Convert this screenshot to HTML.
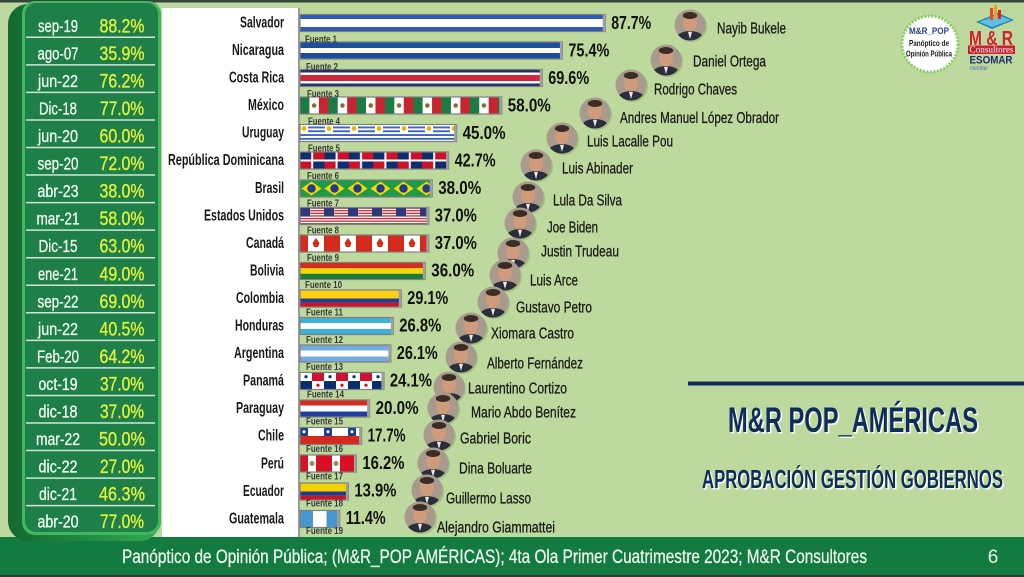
<!DOCTYPE html>
<html><head><meta charset="utf-8"><style>
html,body{margin:0;padding:0;background:#bdd99d;}
svg{display:block;}
.f{font-family:"Liberation Sans Narrow","Liberation Sans",sans-serif;}
</style></head><body>
<svg width="1024" height="577" viewBox="0 0 1024 577" xmlns="http://www.w3.org/2000/svg" class="f">
<defs>
<linearGradient id="side" x1="0" x2="1" y1="0" y2="0">
<stop offset="0" stop-color="#16682f"/><stop offset="0.5" stop-color="#1f8a40"/><stop offset="1" stop-color="#34a856"/>
</linearGradient>
<clipPath id="fc"><circle cx="0" cy="0" r="15.5"/></clipPath>
<g id="face">
<circle cx="1.5" cy="1.5" r="15.5" fill="#6f8a5c" opacity="0.35"/>
<g clip-path="url(#fc)">
<rect x="-16" y="-16" width="32" height="32" fill="#a89a8c"/>
<ellipse cx="0" cy="16" rx="15" ry="10" fill="#2a2e3a"/>
<ellipse cx="0" cy="-2" rx="7" ry="8.5" fill="#cf9b7a"/>
<ellipse cx="0" cy="-9.5" rx="7.2" ry="3.5" fill="#3b2d26"/>
<polygon points="-2,7 2,7 0,14" fill="#e8e8e8"/>
</g>
</g>
<pattern id="p4" patternUnits="userSpaceOnUse" x="300" y="97" width="28.3" height="17">
<rect x="0" y="0" width="9.43" height="17" fill="#1b7b43"/><rect x="9.43" y="0" width="9.44" height="17" fill="#fff"/><rect x="18.87" y="0" width="9.43" height="17" fill="#c8242f"/><circle cx="14.15" cy="8.5" r="2.3" fill="#8a6a3a"/>
</pattern>
<pattern id="p5" patternUnits="userSpaceOnUse" x="300" y="124.5" width="25" height="17">
<rect width="25" height="17" fill="#fff"/><rect x="0" y="2" width="25" height="1.9" fill="#3a66c4"/><rect x="0" y="5.8" width="25" height="1.9" fill="#3a66c4"/><rect x="0" y="9.6" width="25" height="1.9" fill="#3a66c4"/><rect x="0" y="13.4" width="25" height="1.9" fill="#3a66c4"/><rect x="0" y="0" width="8" height="8" fill="#fff"/><circle cx="4" cy="4" r="2.4" fill="#e8b800"/>
</pattern>
<pattern id="p6" patternUnits="userSpaceOnUse" x="300" y="152" width="24.4" height="17">
<rect width="24.4" height="17" fill="#fff"/><rect x="0" y="0" width="11.2" height="7.5" fill="#0d2d6e"/><rect x="13.2" y="0" width="11.2" height="7.5" fill="#ce1126"/><rect x="0" y="9.5" width="11.2" height="7.5" fill="#ce1126"/><rect x="13.2" y="9.5" width="11.2" height="7.5" fill="#0d2d6e"/>
</pattern>
<pattern id="p7" patternUnits="userSpaceOnUse" x="300" y="180" width="23" height="17">
<rect width="23" height="17" fill="#1e9a48"/><polygon points="1.5,8.5 11.5,1.5 21.5,8.5 11.5,15.5" fill="#f6d800"/><circle cx="11.5" cy="8.5" r="4.2" fill="#1f3c8f"/>
</pattern>
<pattern id="p8" patternUnits="userSpaceOnUse" x="300" y="207.5" width="24" height="17">
<rect width="24" height="17" fill="#fff"/><rect y="0" width="24" height="1.3" fill="#c0303a"/><rect y="2.6" width="24" height="1.3" fill="#c0303a"/><rect y="5.2" width="24" height="1.3" fill="#c0303a"/><rect y="7.8" width="24" height="1.3" fill="#c0303a"/><rect y="10.4" width="24" height="1.3" fill="#c0303a"/><rect y="13" width="24" height="1.3" fill="#c0303a"/><rect y="15.6" width="24" height="1.4" fill="#c0303a"/><rect x="0" y="0" width="10" height="9" fill="#2c3a78"/>
</pattern>
<pattern id="p9" patternUnits="userSpaceOnUse" x="300" y="235" width="32" height="17">
<rect width="32" height="17" fill="#d52b1e"/><rect x="8" y="0" width="16" height="17" fill="#fff"/><polygon points="16,3 19.5,8 18,12 14,12 12.5,8" fill="#d52b1e"/>
</pattern>
<pattern id="p14" patternUnits="userSpaceOnUse" x="300" y="372.5" width="24" height="17">
<rect width="24" height="17" fill="#fff"/><rect x="12" y="0" width="12" height="8.5" fill="#d21034"/><rect x="0" y="8.5" width="12" height="8.5" fill="#072f6e"/><circle cx="6" cy="4.25" r="1.6" fill="#072f6e"/><circle cx="18" cy="12.75" r="1.6" fill="#d21034"/>
</pattern>
<pattern id="p16" patternUnits="userSpaceOnUse" x="300" y="427.5" width="24" height="17">
<rect width="24" height="8.5" fill="#fff"/><rect y="8.5" width="24" height="8.5" fill="#d52b1e"/><rect x="0" y="0" width="8" height="8.5" fill="#1c3f94"/><circle cx="4" cy="4.25" r="1.5" fill="#fff"/>
</pattern>
<pattern id="p17" patternUnits="userSpaceOnUse" x="300" y="455" width="24" height="17">
<rect width="24" height="17" fill="#d91023"/><rect x="8" y="0" width="8" height="17" fill="#fff"/><circle cx="12" cy="8.5" r="2.5" fill="#9a8a4a"/>
</pattern>
</defs>

<rect width="1024" height="577" fill="#bdd99d"/>
<rect x="0" y="0" width="1024" height="2.5" fill="#35443a"/>

<rect x="0" y="537" width="1024" height="38" fill="#137a40"/>
<rect x="0" y="575" width="1024" height="2" fill="#2e3a33"/>
<text x="122" y="563" font-size="19" fill="#eaf4ea" stroke="#eaf4ea" stroke-width="0.3" textLength="745" lengthAdjust="spacingAndGlyphs">Panóptico de Opinión Pública; (M&amp;R_POP AMÉRICAS); 4ta Ola Primer Cuatrimestre 2023; M&amp;R Consultores</text>
<text x="993" y="563" font-size="19" fill="#eaf4ea" text-anchor="middle">6</text>

<rect x="8" y="4" width="152" height="537" rx="20" fill="url(#side)"/>
<rect x="22" y="1" width="139" height="534" rx="13" fill="#3fb860"/>
<rect x="25" y="3" width="133" height="529" rx="11" fill="#1f7f48"/>
<g stroke="#cfe6d4" stroke-width="1.5">
<line x1="26" x2="155" y1="37.3" y2="37.3"/><line x1="26" x2="155" y1="64.85" y2="64.85"/><line x1="26" x2="155" y1="92.4" y2="92.4"/><line x1="26" x2="155" y1="119.95" y2="119.95"/><line x1="26" x2="155" y1="147.5" y2="147.5"/><line x1="26" x2="155" y1="175.05" y2="175.05"/><line x1="26" x2="155" y1="202.6" y2="202.6"/><line x1="26" x2="155" y1="230.15" y2="230.15"/><line x1="26" x2="155" y1="257.7" y2="257.7"/><line x1="26" x2="155" y1="285.25" y2="285.25"/><line x1="26" x2="155" y1="312.8" y2="312.8"/><line x1="26" x2="155" y1="340.35" y2="340.35"/><line x1="26" x2="155" y1="367.9" y2="367.9"/><line x1="26" x2="155" y1="395.45" y2="395.45"/><line x1="26" x2="155" y1="423" y2="423"/><line x1="26" x2="155" y1="450.55" y2="450.55"/><line x1="26" x2="155" y1="478.1" y2="478.1"/><line x1="26" x2="155" y1="505.65" y2="505.65"/>
</g>
<g font-size="17.5" fill="#eef7f0" stroke="#eef7f0" stroke-width="0.35" text-anchor="middle">
<text x="58" y="31.8" textLength="40" lengthAdjust="spacingAndGlyphs">sep-19</text>
<text x="58" y="59.35" textLength="41" lengthAdjust="spacingAndGlyphs">ago-07</text>
<text x="58" y="86.9" textLength="40" lengthAdjust="spacingAndGlyphs">jun-22</text>
<text x="58" y="114.45" textLength="38" lengthAdjust="spacingAndGlyphs">Dic-18</text>
<text x="58" y="142" textLength="40" lengthAdjust="spacingAndGlyphs">jun-20</text>
<text x="58" y="169.55" textLength="41" lengthAdjust="spacingAndGlyphs">sep-20</text>
<text x="58" y="197.1" textLength="41" lengthAdjust="spacingAndGlyphs">abr-23</text>
<text x="58" y="224.65" textLength="43" lengthAdjust="spacingAndGlyphs">mar-21</text>
<text x="58" y="252.2" textLength="39" lengthAdjust="spacingAndGlyphs">Dic-15</text>
<text x="58" y="279.75" textLength="40" lengthAdjust="spacingAndGlyphs">ene-21</text>
<text x="58" y="307.3" textLength="41" lengthAdjust="spacingAndGlyphs">sep-22</text>
<text x="58" y="334.85" textLength="40" lengthAdjust="spacingAndGlyphs">jun-22</text>
<text x="58" y="362.4" textLength="42" lengthAdjust="spacingAndGlyphs">Feb-20</text>
<text x="58" y="389.95" textLength="39" lengthAdjust="spacingAndGlyphs">oct-19</text>
<text x="58" y="417.5" textLength="39" lengthAdjust="spacingAndGlyphs">dic-18</text>
<text x="58" y="445.05" textLength="44" lengthAdjust="spacingAndGlyphs">mar-22</text>
<text x="58" y="472.6" textLength="39" lengthAdjust="spacingAndGlyphs">dic-22</text>
<text x="58" y="500.15" textLength="38" lengthAdjust="spacingAndGlyphs">dic-21</text>
<text x="58" y="527.7" textLength="41" lengthAdjust="spacingAndGlyphs">abr-20</text>
</g>
<g font-size="19" fill="#e4f23c" stroke="#e4f23c" stroke-width="0.35" text-anchor="middle">
<text x="122" y="32.3" textLength="45" lengthAdjust="spacingAndGlyphs">88.2%</text>
<text x="122" y="59.85" textLength="45" lengthAdjust="spacingAndGlyphs">35.9%</text>
<text x="122" y="87.4" textLength="45" lengthAdjust="spacingAndGlyphs">76.2%</text>
<text x="122" y="114.95" textLength="44" lengthAdjust="spacingAndGlyphs">77.0%</text>
<text x="122" y="142.5" textLength="45" lengthAdjust="spacingAndGlyphs">60.0%</text>
<text x="122" y="170.05" textLength="45" lengthAdjust="spacingAndGlyphs">72.0%</text>
<text x="122" y="197.6" textLength="45" lengthAdjust="spacingAndGlyphs">38.0%</text>
<text x="122" y="225.15" textLength="45" lengthAdjust="spacingAndGlyphs">58.0%</text>
<text x="122" y="252.7" textLength="45" lengthAdjust="spacingAndGlyphs">63.0%</text>
<text x="122" y="280.25" textLength="45" lengthAdjust="spacingAndGlyphs">49.0%</text>
<text x="122" y="307.8" textLength="45" lengthAdjust="spacingAndGlyphs">69.0%</text>
<text x="122" y="335.35" textLength="45" lengthAdjust="spacingAndGlyphs">40.5%</text>
<text x="122" y="362.9" textLength="45" lengthAdjust="spacingAndGlyphs">64.2%</text>
<text x="122" y="390.45" textLength="44" lengthAdjust="spacingAndGlyphs">37.0%</text>
<text x="122" y="418" textLength="44" lengthAdjust="spacingAndGlyphs">37.0%</text>
<text x="122" y="445.55" textLength="46" lengthAdjust="spacingAndGlyphs">50.0%</text>
<text x="122" y="473.1" textLength="44" lengthAdjust="spacingAndGlyphs">27.0%</text>
<text x="122" y="500.65" textLength="46" lengthAdjust="spacingAndGlyphs">46.3%</text>
<text x="122" y="528.2" textLength="44" lengthAdjust="spacingAndGlyphs">77.0%</text>
</g>

<rect x="162" y="8" width="136" height="529" fill="#ffffff"/>
<rect x="298" y="8" width="2" height="529" fill="#9a9a9a"/>
<g font-size="16" font-weight="bold" fill="#1a1a1a" text-anchor="end">
<text x="284" y="27.5" textLength="44" lengthAdjust="spacingAndGlyphs">Salvador</text>
<text x="284" y="55" textLength="52" lengthAdjust="spacingAndGlyphs">Nicaragua</text>
<text x="284" y="82.6" textLength="55" lengthAdjust="spacingAndGlyphs">Costa Rica</text>
<text x="284" y="110.1" textLength="36" lengthAdjust="spacingAndGlyphs">México</text>
<text x="284" y="137.7" textLength="42" lengthAdjust="spacingAndGlyphs">Uruguay</text>
<text x="284" y="165.2" textLength="116" lengthAdjust="spacingAndGlyphs">República Dominicana</text>
<text x="284" y="192.8" textLength="29" lengthAdjust="spacingAndGlyphs">Brasil</text>
<text x="284" y="220.3" textLength="80" lengthAdjust="spacingAndGlyphs">Estados Unidos</text>
<text x="284" y="247.9" textLength="38" lengthAdjust="spacingAndGlyphs">Canadá</text>
<text x="284" y="275.4" textLength="34" lengthAdjust="spacingAndGlyphs">Bolivia</text>
<text x="284" y="303" textLength="48" lengthAdjust="spacingAndGlyphs">Colombia</text>
<text x="284" y="330.5" textLength="49" lengthAdjust="spacingAndGlyphs">Honduras</text>
<text x="284" y="358.1" textLength="50" lengthAdjust="spacingAndGlyphs">Argentina</text>
<text x="284" y="385.6" textLength="41" lengthAdjust="spacingAndGlyphs">Panamá</text>
<text x="284" y="413.2" textLength="48" lengthAdjust="spacingAndGlyphs">Paraguay</text>
<text x="284" y="440.7" textLength="26" lengthAdjust="spacingAndGlyphs">Chile</text>
<text x="284" y="468.3" textLength="23" lengthAdjust="spacingAndGlyphs">Perú</text>
<text x="284" y="495.8" textLength="41" lengthAdjust="spacingAndGlyphs">Ecuador</text>
<text x="284" y="523.4" textLength="55" lengthAdjust="spacingAndGlyphs">Guatemala</text>
</g>

<rect x="300" y="14.5" width="305.2" height="17" fill="#fff"/>
<rect x="300" y="14.5" width="305.2" height="4.5" fill="#2b59b5"/>
<rect x="300" y="27" width="305.2" height="4.5" fill="#2b59b5"/>
<rect x="300" y="42" width="262.4" height="17" fill="#fff"/>
<rect x="300" y="42" width="262.4" height="6" fill="#1a4f9c"/>
<rect x="300" y="53" width="262.4" height="6" fill="#1a4f9c"/>
<rect x="300" y="69.5" width="242.2" height="17" fill="#fff"/>
<rect x="300" y="69.5" width="242.2" height="3" fill="#1f2f6b"/>
<rect x="300" y="75" width="242.2" height="6" fill="#d0263a"/>
<rect x="300" y="83.5" width="242.2" height="3" fill="#1f2f6b"/>
<rect x="300" y="97" width="201.8" height="17" fill="url(#p4)"/>
<rect x="300" y="124.5" width="156.6" height="17" fill="url(#p5)"/>
<rect x="300" y="152" width="148.6" height="17" fill="url(#p6)"/>
<rect x="300" y="180" width="132.2" height="17" fill="url(#p7)"/>
<rect x="300" y="207.5" width="128.8" height="17" fill="url(#p8)"/>
<rect x="300" y="235" width="128.8" height="17" fill="url(#p9)"/>
<rect x="300" y="262.5" width="125.3" height="5.7" fill="#d52b1e"/>
<rect x="300" y="268.2" width="125.3" height="5.6" fill="#f4d600"/>
<rect x="300" y="273.8" width="125.3" height="5.7" fill="#1a7a34"/>
<rect x="300" y="290" width="101.3" height="8.5" fill="#fcd116"/>
<rect x="300" y="298.5" width="101.3" height="4.25" fill="#1f3d93"/>
<rect x="300" y="302.75" width="101.3" height="4.25" fill="#ce1126"/>
<rect x="300" y="317.5" width="93.3" height="17" fill="#fff"/>
<rect x="300" y="317.5" width="93.3" height="5.5" fill="#3fb1d8"/>
<rect x="300" y="329" width="93.3" height="5.5" fill="#3fb1d8"/>
<rect x="300" y="345" width="90.8" height="17" fill="#fff"/>
<rect x="300" y="345" width="90.8" height="5.5" fill="#74acdf"/>
<rect x="300" y="356.5" width="90.8" height="5.5" fill="#74acdf"/>
<rect x="300" y="372.5" width="83.9" height="17" fill="url(#p14)"/>
<rect x="300" y="400" width="69.6" height="17" fill="#fff"/>
<rect x="300" y="400" width="69.6" height="5.5" fill="#d52b1e"/>
<rect x="300" y="411.5" width="69.6" height="5.5" fill="#1f3fa0"/>
<rect x="300" y="427.5" width="61.6" height="17" fill="url(#p16)"/>
<rect x="300" y="455" width="56.4" height="17" fill="url(#p17)"/>
<rect x="300" y="483" width="48.4" height="8.5" fill="#f6d100"/>
<rect x="300" y="491.5" width="48.4" height="4.25" fill="#1f3d93"/>
<rect x="300" y="495.75" width="48.4" height="4.25" fill="#ce1126"/>
<rect x="300" y="510.5" width="39.7" height="17" fill="#4997d0"/>
<rect x="313" y="510.5" width="13.5" height="17" fill="#fff"/>

<g fill="none" stroke="#7f7f7f" stroke-width="1.2">
<rect x="300" y="14.5" width="305.2" height="17"/><rect x="300" y="42" width="262.4" height="17"/><rect x="300" y="69.5" width="242.2" height="17"/><rect x="300" y="97" width="201.8" height="17"/><rect x="300" y="124.5" width="156.6" height="17"/><rect x="300" y="152" width="148.6" height="17"/><rect x="300" y="180" width="132.2" height="17"/><rect x="300" y="207.5" width="128.8" height="17"/><rect x="300" y="235" width="128.8" height="17"/><rect x="300" y="262.5" width="125.3" height="17"/><rect x="300" y="290" width="101.3" height="17"/><rect x="300" y="317.5" width="93.3" height="17"/><rect x="300" y="345" width="90.8" height="17"/><rect x="300" y="372.5" width="83.9" height="17"/><rect x="300" y="400" width="69.6" height="17"/><rect x="300" y="427.5" width="61.6" height="17"/><rect x="300" y="455" width="56.4" height="17"/><rect x="300" y="483" width="48.4" height="17"/><rect x="300" y="510.5" width="39.7" height="17"/>
</g>
<g fill="#a0a0a0">
<rect x="602.7" y="14.5" width="2.5" height="17"/><rect x="559.9" y="42" width="2.5" height="17"/><rect x="539.7" y="69.5" width="2.5" height="17"/><rect x="499.3" y="97" width="2.5" height="17"/><rect x="454.1" y="124.5" width="2.5" height="17"/><rect x="446.1" y="152" width="2.5" height="17"/><rect x="429.7" y="180" width="2.5" height="17"/><rect x="426.3" y="207.5" width="2.5" height="17"/><rect x="426.3" y="235" width="2.5" height="17"/><rect x="422.8" y="262.5" width="2.5" height="17"/><rect x="398.8" y="290" width="2.5" height="17"/><rect x="390.8" y="317.5" width="2.5" height="17"/><rect x="388.3" y="345" width="2.5" height="17"/><rect x="381.4" y="372.5" width="2.5" height="17"/><rect x="367.1" y="400" width="2.5" height="17"/><rect x="359.1" y="427.5" width="2.5" height="17"/><rect x="353.9" y="455" width="2.5" height="17"/><rect x="345.9" y="483" width="2.5" height="17"/><rect x="337.2" y="510.5" width="2.5" height="17"/>
</g>

<g font-size="10.5" font-weight="bold" fill="#3a3a3a">
<text x="305" y="42.5" textLength="32" lengthAdjust="spacingAndGlyphs">Fuente 1</text>
<text x="306" y="69.8" textLength="32" lengthAdjust="spacingAndGlyphs">Fuente 2</text>
<text x="307" y="97.1" textLength="32" lengthAdjust="spacingAndGlyphs">Fuente 3</text>
<text x="308" y="124.4" textLength="32" lengthAdjust="spacingAndGlyphs">Fuente 4</text>
<text x="308" y="151.7" textLength="32" lengthAdjust="spacingAndGlyphs">Fuente 5</text>
<text x="307" y="179" textLength="32" lengthAdjust="spacingAndGlyphs">Fuente 6</text>
<text x="307" y="206.3" textLength="32" lengthAdjust="spacingAndGlyphs">Fuente 7</text>
<text x="307" y="233.6" textLength="32" lengthAdjust="spacingAndGlyphs">Fuente 8</text>
<text x="307" y="260.9" textLength="32" lengthAdjust="spacingAndGlyphs">Fuente 9</text>
<text x="305" y="288.2" textLength="37" lengthAdjust="spacingAndGlyphs">Fuente 10</text>
<text x="306" y="315.5" textLength="37" lengthAdjust="spacingAndGlyphs">Fuente 11</text>
<text x="306" y="342.8" textLength="37" lengthAdjust="spacingAndGlyphs">Fuente 12</text>
<text x="306" y="370.1" textLength="37" lengthAdjust="spacingAndGlyphs">Fuente 13</text>
<text x="307" y="397.4" textLength="37" lengthAdjust="spacingAndGlyphs">Fuente 14</text>
<text x="306" y="424.7" textLength="37" lengthAdjust="spacingAndGlyphs">Fuente 15</text>
<text x="306" y="452" textLength="37" lengthAdjust="spacingAndGlyphs">Fuente 16</text>
<text x="306" y="479.3" textLength="37" lengthAdjust="spacingAndGlyphs">Fuente 17</text>
<text x="306" y="506.6" textLength="37" lengthAdjust="spacingAndGlyphs">Fuente 18</text>
<text x="306" y="533.9" textLength="37" lengthAdjust="spacingAndGlyphs">Fuente 19</text>
</g>

<g font-size="18" font-weight="bold" fill="#111">
<text x="611.2" y="29.2" textLength="40" lengthAdjust="spacingAndGlyphs">87.7%</text>
<text x="568.4" y="56.7" textLength="41" lengthAdjust="spacingAndGlyphs">75.4%</text>
<text x="548.2" y="84.2" textLength="41" lengthAdjust="spacingAndGlyphs">69.6%</text>
<text x="507.8" y="111.7" textLength="43" lengthAdjust="spacingAndGlyphs">58.0%</text>
<text x="462.6" y="139.2" textLength="43" lengthAdjust="spacingAndGlyphs">45.0%</text>
<text x="454.6" y="166.7" textLength="41" lengthAdjust="spacingAndGlyphs">42.7%</text>
<text x="438.2" y="194.2" textLength="43" lengthAdjust="spacingAndGlyphs">38.0%</text>
<text x="434.8" y="221.7" textLength="42" lengthAdjust="spacingAndGlyphs">37.0%</text>
<text x="434.8" y="249.2" textLength="42" lengthAdjust="spacingAndGlyphs">37.0%</text>
<text x="431.3" y="276.7" textLength="43" lengthAdjust="spacingAndGlyphs">36.0%</text>
<text x="407.3" y="304.2" textLength="41" lengthAdjust="spacingAndGlyphs">29.1%</text>
<text x="399.3" y="331.7" textLength="42" lengthAdjust="spacingAndGlyphs">26.8%</text>
<text x="396.8" y="359.2" textLength="41" lengthAdjust="spacingAndGlyphs">26.1%</text>
<text x="389.9" y="386.7" textLength="42" lengthAdjust="spacingAndGlyphs">24.1%</text>
<text x="375.6" y="414.2" textLength="43" lengthAdjust="spacingAndGlyphs">20.0%</text>
<text x="367.6" y="441.7" textLength="38" lengthAdjust="spacingAndGlyphs">17.7%</text>
<text x="362.4" y="469.2" textLength="42" lengthAdjust="spacingAndGlyphs">16.2%</text>
<text x="354.4" y="496.7" textLength="42" lengthAdjust="spacingAndGlyphs">13.9%</text>
<text x="345.7" y="524.2" textLength="40" lengthAdjust="spacingAndGlyphs">11.4%</text>
</g>

<use href="#face" x="690" y="25"/>
<use href="#face" x="666" y="60"/>
<use href="#face" x="631" y="85"/>
<use href="#face" x="595" y="113"/>
<use href="#face" x="562" y="138"/>
<use href="#face" x="536" y="165"/>
<use href="#face" x="528" y="197"/>
<use href="#face" x="520" y="223"/>
<use href="#face" x="513" y="253"/>
<use href="#face" x="505" y="275"/>
<use href="#face" x="493" y="302"/>
<use href="#face" x="471" y="328"/>
<use href="#face" x="461" y="357"/>
<use href="#face" x="449" y="387"/>
<use href="#face" x="443" y="408"/>
<use href="#face" x="439" y="435"/>
<use href="#face" x="433" y="463"/>
<use href="#face" x="427" y="490"/>
<use href="#face" x="420" y="517"/>

<g font-size="16" fill="#1a1a1a" stroke="#1a1a1a" stroke-width="0.3">
<text x="717" y="33.7" textLength="69" lengthAdjust="spacingAndGlyphs">Nayib Bukele</text>
<text x="693" y="66.7" textLength="73" lengthAdjust="spacingAndGlyphs">Daniel Ortega</text>
<text x="654" y="94.7" textLength="83" lengthAdjust="spacingAndGlyphs">Rodrigo Chaves</text>
<text x="620" y="123.2" textLength="159" lengthAdjust="spacingAndGlyphs">Andres Manuel López Obrador</text>
<text x="587" y="146.7" textLength="86" lengthAdjust="spacingAndGlyphs">Luis Lacalle Pou</text>
<text x="562" y="173.7" textLength="71" lengthAdjust="spacingAndGlyphs">Luis Abinader</text>
<text x="553" y="205.7" textLength="69" lengthAdjust="spacingAndGlyphs">Lula Da Silva</text>
<text x="547" y="232.7" textLength="51" lengthAdjust="spacingAndGlyphs">Joe Biden</text>
<text x="541" y="256.7" textLength="78" lengthAdjust="spacingAndGlyphs">Justin Trudeau</text>
<text x="530" y="285.7" textLength="48" lengthAdjust="spacingAndGlyphs">Luis Arce</text>
<text x="516" y="312.7" textLength="76" lengthAdjust="spacingAndGlyphs">Gustavo Petro</text>
<text x="491" y="338.7" textLength="83" lengthAdjust="spacingAndGlyphs">Xiomara Castro</text>
<text x="487" y="368.7" textLength="96" lengthAdjust="spacingAndGlyphs">Alberto Fernández</text>
<text x="468" y="393.7" textLength="99" lengthAdjust="spacingAndGlyphs">Laurentino Cortizo</text>
<text x="471" y="417.7" textLength="105" lengthAdjust="spacingAndGlyphs">Mario Abdo Benítez</text>
<text x="460" y="443.7" textLength="71" lengthAdjust="spacingAndGlyphs">Gabriel Boric</text>
<text x="459" y="473.7" textLength="73" lengthAdjust="spacingAndGlyphs">Dina Boluarte</text>
<text x="446" y="503.7" textLength="85" lengthAdjust="spacingAndGlyphs">Guillermo Lasso</text>
<text x="437" y="532.7" textLength="118" lengthAdjust="spacingAndGlyphs">Alejandro Giammattei</text>
</g>

<rect x="688" y="381.5" width="336" height="4" fill="#0e2d5a"/>
<text x="729.5" y="433.5" font-size="35" font-weight="bold" fill="#ffffff" textLength="250" lengthAdjust="spacingAndGlyphs">M&amp;R POP_AMÉRICAS</text>
<text x="728" y="432" font-size="35" font-weight="bold" fill="#0e2d5a" textLength="250" lengthAdjust="spacingAndGlyphs">M&amp;R POP_AMÉRICAS</text>
<text x="703.5" y="489.5" font-size="26" font-weight="bold" fill="#ffffff" textLength="301" lengthAdjust="spacingAndGlyphs">APROBACIÓN GESTIÓN GOBIERNOS</text>
<text x="702" y="488" font-size="26" font-weight="bold" fill="#0e2d5a" textLength="301" lengthAdjust="spacingAndGlyphs">APROBACIÓN GESTIÓN GOBIERNOS</text>

<circle cx="930" cy="44" r="28" fill="#ffffff" stroke="#86cf62" stroke-width="3" stroke-dasharray="2 1.5"/>
<text x="929" y="34" font-size="9" font-weight="bold" fill="#2a3f8a" text-anchor="middle" textLength="40" lengthAdjust="spacingAndGlyphs">M&amp;R_POP</text>
<text x="929" y="46" font-size="8.5" font-weight="bold" fill="#1a1a1a" text-anchor="middle" textLength="40" lengthAdjust="spacingAndGlyphs">Panóptico de</text>
<text x="929" y="56.5" font-size="8.5" font-weight="bold" fill="#1a1a1a" text-anchor="middle" textLength="46" lengthAdjust="spacingAndGlyphs">Opinión Pública</text>

<polygon points="976,22 998,13 1014,20 992,29" fill="#1d86b8"/>
<polygon points="979,22 998,15 1011,20 992,27" fill="#5cc0e0"/>
<rect x="990" y="8" width="3" height="12" fill="#e64a2e"/>
<rect x="994" y="5" width="3" height="14" fill="#f2a01f"/>
<rect x="998" y="10" width="3" height="9" fill="#d8232f"/>
<text x="991" y="45" font-size="20" font-weight="bold" fill="#d3202f" text-anchor="middle" textLength="44" lengthAdjust="spacingAndGlyphs">M &amp; R</text>
<rect x="968" y="45.5" width="47" height="8.5" fill="#c8202f"/>
<text x="991.5" y="52.5" font-size="9" fill="#ffffff" text-anchor="middle" font-family="Liberation Serif, serif" textLength="44" lengthAdjust="spacingAndGlyphs">Consultores</text>
<text x="991" y="63.5" font-size="11" font-weight="bold" fill="#1e2a6b" text-anchor="middle" textLength="43" lengthAdjust="spacingAndGlyphs">ESOMAR</text>
<text x="970" y="70" font-size="6.5" fill="#4a70b0" textLength="18" lengthAdjust="spacingAndGlyphs">member</text>
</svg>
</body></html>
